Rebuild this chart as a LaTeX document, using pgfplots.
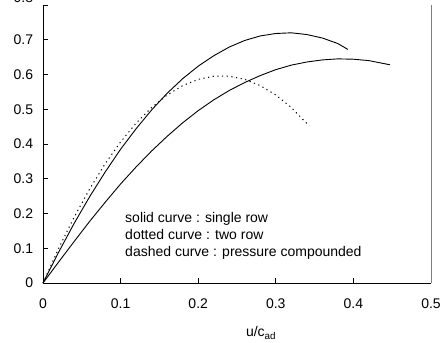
\documentclass[border=0pt]{standalone}
\usepackage{pgfplots}
\pgfplotsset{compat=1.18}
\usepackage{fontspec}
\setmainfont{Liberation Sans}
\begin{document}
\fontsize{14}{16}\selectfont
\begin{tikzpicture}
\begin{axis}[
  at={(0,0)}, anchor=south west,
  scale only axis, width=388pt, height=278pt,
  xmin=0, xmax=0.5, ymin=0, ymax=0.8,
  axis x line*=bottom, axis y line*=left,
  axis line style={-, line width=0.8pt},
  xtick={0,0.1,0.2,0.3,0.4,0.5},
  ytick={0,0.1,0.2,0.3,0.4,0.5,0.6,0.7,0.8},
  yticklabels={0,0.1,0.2,0.3,0.4,0.5,0.6,0.7,},
  tick align=inside, major tick length=5pt,
  tick style={line width=0.8pt, black},
  /pgf/number format/assume math mode=true,
  /pgf/number format/fixed, /pgf/number format/precision=1,
  ticklabel style={font=\fontsize{14}{16}\selectfont},
  xticklabel style={yshift=-11pt},
  yticklabel style={xshift=-5pt},
  clip=false,
]
% solid: single row (upper)
\addplot[black, line width=0.9pt] coordinates {
(0,0) (0.02,0.088) (0.04,0.171) (0.06,0.248) (0.08,0.319) (0.10,0.385)
(0.12,0.444) (0.14,0.498) (0.16,0.546) (0.18,0.588) (0.20,0.624)
(0.22,0.654) (0.24,0.679) (0.26,0.698) (0.28,0.711) (0.30,0.718)
(0.32,0.720) (0.34,0.715) (0.36,0.705) (0.38,0.689) (0.393,0.672)};
% solid: lower (pressure compounded)
\addplot[black, line width=0.9pt] coordinates {
(0,0) (0.02,0.060) (0.04,0.119) (0.06,0.177) (0.08,0.232) (0.10,0.285)
(0.12,0.334) (0.14,0.380) (0.16,0.422) (0.18,0.461) (0.20,0.496)
(0.22,0.527) (0.24,0.554) (0.26,0.577) (0.28,0.597) (0.30,0.614)
(0.32,0.627) (0.34,0.636) (0.36,0.642) (0.38,0.645) (0.40,0.644)
(0.42,0.640) (0.447,0.628)};
% dotted: two row
\addplot[black, line width=1pt, dash pattern=on 1.2pt off 3.5pt] coordinates {
(0,0) (0.02,0.099) (0.04,0.189) (0.06,0.270) (0.08,0.343) (0.10,0.406)
(0.12,0.460) (0.14,0.505) (0.16,0.541) (0.18,0.568) (0.20,0.586)
(0.22,0.595) (0.24,0.595) (0.26,0.586) (0.28,0.568) (0.30,0.541)
(0.32,0.505) (0.343,0.452)};
\draw[gray, line width=0.8pt] (rel axis cs:1,0) -- (rel axis cs:1,1);
\node[anchor=east, inner sep=0.333em, xshift=-5pt, yshift=7.5pt] at (axis cs:0,0.8) {0.8};
\node[anchor=base west, inner sep=0] at (axis cs:0.1057,0.1755) {solid curve : single row};
\node[anchor=base west, inner sep=0] at (axis cs:0.1057,0.1266) {dotted curve : two row};
\node[anchor=base west, inner sep=0] at (axis cs:0.1057,0.0777) {dashed curve : pressure compounded};
\node[anchor=center] at (axis description cs:0.562,-0.18) {u/c\textsubscript{ad}};
\end{axis}
\pgfresetboundingbox
\useasboundingbox (-43pt,-59pt) rectangle (400pt,283pt);
\end{tikzpicture}
\end{document}
